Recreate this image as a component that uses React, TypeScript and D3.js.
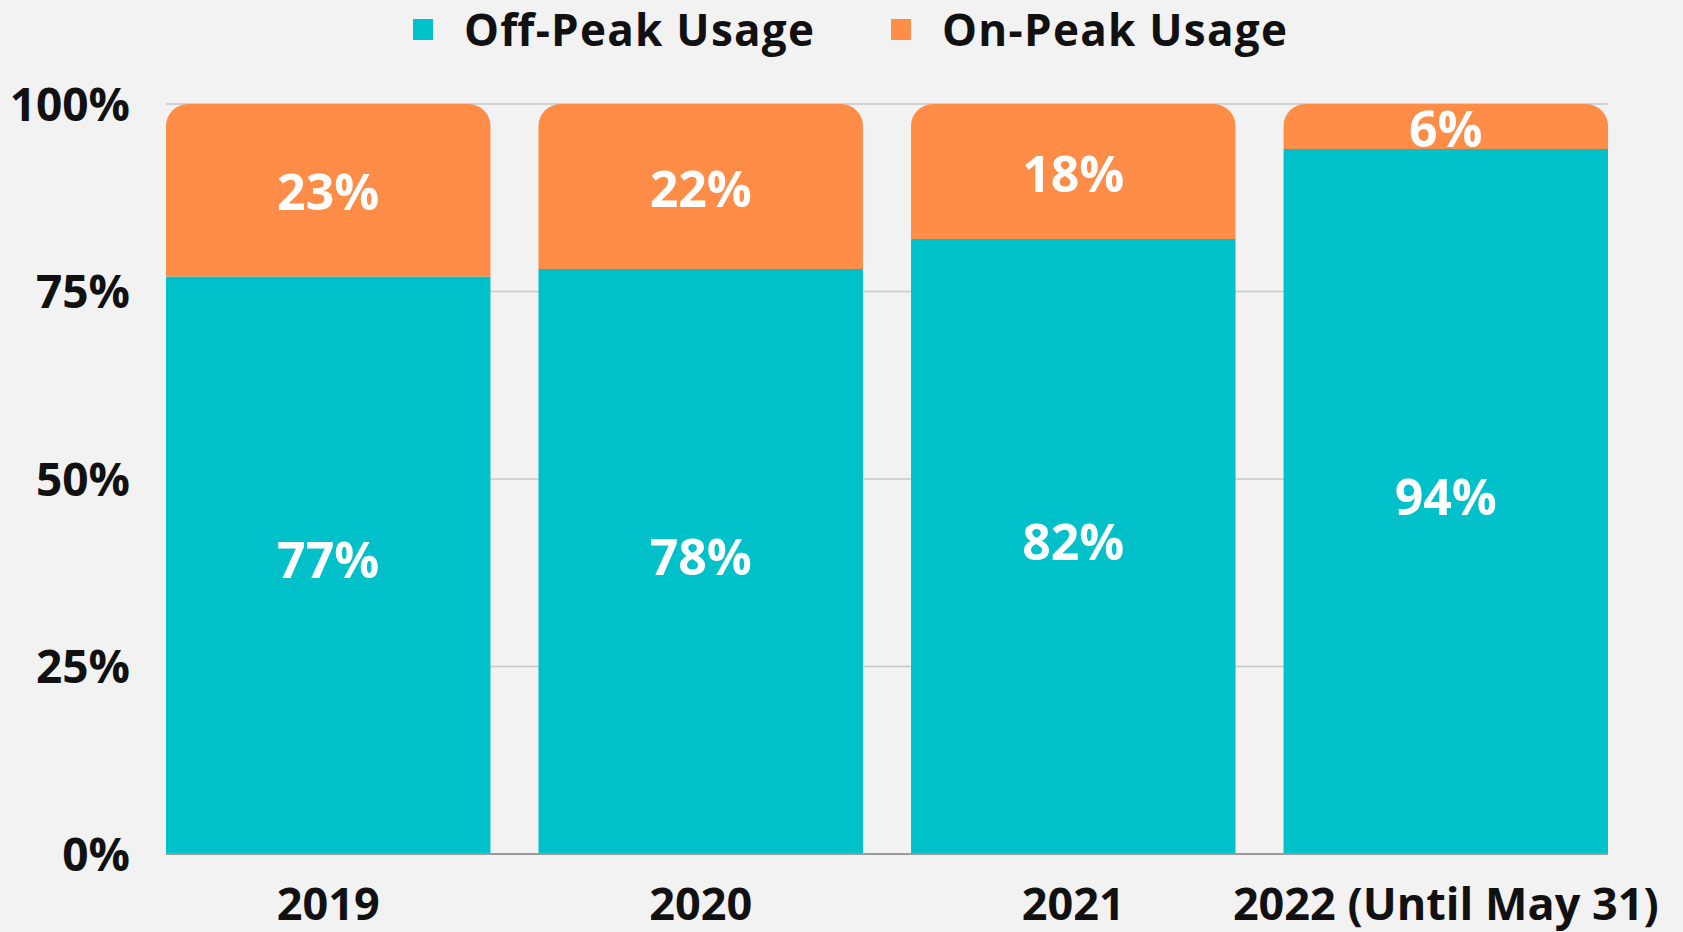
import React, { useEffect, useRef } from 'react';
import * as d3 from 'd3';

// chart data
const years = ['2019', '2020', '2021', '2022 (Until May 31)'];
const offPeak = [77, 78, 82, 94];
const onPeak = [23, 22, 18, 6];
const yTicks = [0, 25, 50, 75, 100];
const seriesNames = ['Off-Peak Usage', 'On-Peak Usage'];
const seriesColors = ['#00C1CA', '#FF8C47'];

const W = 1683;
const H = 932;

const App = () => {
  const svgRef = useRef<SVGSVGElement | null>(null);

  useEffect(() => {
    const svg = d3.select(svgRef.current);
    svg.selectAll('*').remove();

    const margin = { top: 104, right: 75, bottom: 78, left: 166 };
    const width = W - margin.left - margin.right;
    const height = H - margin.top - margin.bottom;
    const font = "'Open Sans', sans-serif";

    // background
    svg.append('rect').attr('width', W).attr('height', H).attr('fill', '#F2F2F2');

    const g = svg.append('g').attr('transform', `translate(${margin.left},${margin.top})`);

    const x = d3.scaleBand().domain(years).range([0, width]).paddingInner(0.129).paddingOuter(0);
    const y = d3.scaleLinear().domain([0, 100]).range([height, 0]);

    // gridlines
    g.selectAll('.grid')
      .data(yTicks.filter(t => t > 0))
      .enter()
      .append('line')
      .attr('x1', 0)
      .attr('x2', width)
      .attr('y1', d => y(d))
      .attr('y2', d => y(d))
      .attr('stroke', '#C8C8C8')
      .attr('stroke-width', 1.5);

    // y labels
    g.selectAll('.ylab')
      .data(yTicks)
      .enter()
      .append('text')
      .attr('x', -36)
      .attr('y', d => y(d))
      .attr('dy', '0.36em')
      .attr('text-anchor', 'end')
      .attr('font-family', font)
      .attr('font-weight', 700)
      .attr('font-size', 46)
      .attr('fill', '#111')
      .text(d => d + '%');

    const r = 22;
    const bw = x.bandwidth();

    // off-peak (bottom) segments
    g.selectAll('.off')
      .data(years)
      .enter()
      .append('rect')
      .attr('x', d => x(d)!)
      .attr('y', (d, i) => y(offPeak[i]))
      .attr('width', bw)
      .attr('height', (d, i) => y(0) - y(offPeak[i]))
      .attr('fill', seriesColors[0]);

    // on-peak (top) segments, top corners rounded
    g.selectAll('.on')
      .data(years)
      .enter()
      .append('path')
      .attr('d', (d, i) => {
        const x0 = x(d)!;
        const y0 = y(offPeak[i] + onPeak[i]);
        const y1 = y(offPeak[i]);
        const p = d3.path();
        p.moveTo(x0, y1);
        p.lineTo(x0, y0 + r);
        p.arcTo(x0, y0, x0 + r, y0, r);
        p.lineTo(x0 + bw - r, y0);
        p.arcTo(x0 + bw, y0, x0 + bw, y0 + r, r);
        p.lineTo(x0 + bw, y1);
        p.closePath();
        return p.toString();
      })
      .attr('fill', seriesColors[1]);

    // baseline
    g.append('line')
      .attr('x1', 0)
      .attr('x2', width)
      .attr('y1', y(0))
      .attr('y2', y(0))
      .attr('stroke', '#9A9A9A')
      .attr('stroke-width', 2);

    // value labels
    const labelStyle = (sel: any) =>
      sel
        .attr('text-anchor', 'middle')
        .attr('dy', '0.36em')
        .attr('font-family', font)
        .attr('font-weight', 700)
        .attr('font-size', 50)
        .attr('fill', '#fff');

    g.selectAll('.offlab')
      .data(years)
      .enter()
      .append('text')
      .attr('x', d => x(d)! + bw / 2)
      .attr('y', (d, i) => y(offPeak[i] / 2) - 5)
      .call(labelStyle)
      .text((d, i) => offPeak[i] + '%');

    g.selectAll('.onlab')
      .data(years)
      .enter()
      .append('text')
      .attr('x', d => x(d)! + bw / 2)
      .attr('y', (d, i) => y(offPeak[i] + onPeak[i] / 2) + 2)
      .call(labelStyle)
      .text((d, i) => onPeak[i] + '%');

    // x labels
    g.selectAll('.xlab')
      .data(years)
      .enter()
      .append('text')
      .attr('x', d => x(d)! + bw / 2)
      .attr('y', height + 66)
      .attr('text-anchor', 'middle')
      .attr('font-family', font)
      .attr('font-weight', 700)
      .attr('font-size', 45)
      .attr('fill', '#111')
      .text(d => d);

    // legend
    const legendX = [413, 891];
    const lg = svg.append('g');
    seriesNames.forEach((name, i) => {
      lg.append('rect')
        .attr('x', legendX[i])
        .attr('y', 19)
        .attr('width', 20)
        .attr('height', 21)
        .attr('fill', seriesColors[i]);
      lg.append('text')
        .attr('x', legendX[i] + 51)
        .attr('y', 46)
        .attr('font-family', font)
        .attr('font-weight', 700)
        .attr('font-size', 44)
        .attr('textLength', i === 0 ? 350 : 345)
        .attr('fill', '#111')
        .text(name);
    });
  }, []);

  return (
    <div style={{ position: 'absolute', left: 0, top: 0 }}>
      <svg ref={svgRef} width={W} height={H} style={{ display: 'block' }}></svg>
    </div>
  );
};

export default App;
